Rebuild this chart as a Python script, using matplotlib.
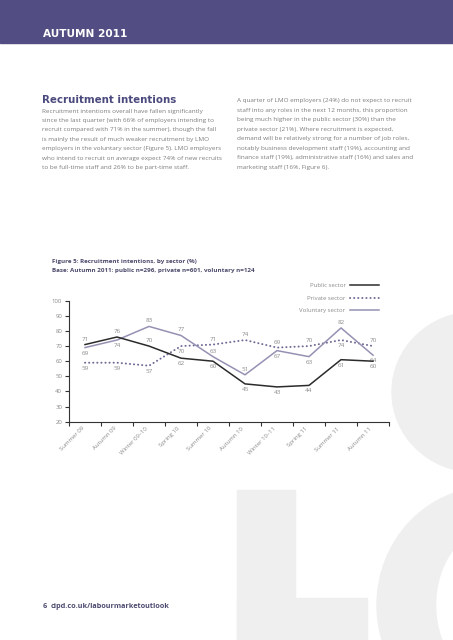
import matplotlib
matplotlib.use("Agg")
import matplotlib.pyplot as plt
from matplotlib.patches import Rectangle, Ellipse

# Figure 5 data (%)
periods = ["Summer 09", "Autumn 09", "Winter 09–10", "Spring 10", "Summer 10",
           "Autumn 10", "Winter 10–11", "Spring 11", "Summer 11", "Autumn 11"]
public = [71, 76, 70, 62, 60, 45, 43, 44, 61, 60]
private = [59, 59, 57, 70, 71, 74, 69, 70, 74, 70]
voluntary = [69, 74, 83, 77, 63, 51, 67, 63, 82, 64]

# where each value label sits: +1 above the line, -1 below
public_pos = [1, 1, 1, -1, -1, -1, -1, -1, -1, -1]
private_pos = [-1, -1, -1, -1, 1, 1, 1, 1, -1, 1]
voluntary_pos = [-1, -1, 1, 1, 1, 1, -1, -1, 1, -1]

left_text = [
    "Recruitment intentions overall have fallen significantly",
    "since the last quarter (with 66% of employers intending to",
    "recruit compared with 71% in the summer), though the fall",
    "is mainly the result of much weaker recruitment by LMO",
    "employers in the voluntary sector (Figure 5). LMO employers",
    "who intend to recruit on average expect 74% of new recruits",
    "to be full-time staff and 26% to be part-time staff.",
]
right_text = [
    "A quarter of LMO employers (24%) do not expect to recruit",
    "staff into any roles in the next 12 months, this proportion",
    "being much higher in the public sector (30%) than the",
    "private sector (21%). Where recruitment is expected,",
    "demand will be relatively strong for a number of job roles,",
    "notably business development staff (19%), accounting and",
    "finance staff (19%), administrative staff (16%) and sales and",
    "marketing staff (16%, Figure 6).",
]

W, H = 453, 640
PURPLE = "#524e83"
GREY_TXT = "#7d7d7d"
BG_SHAPE = "#eeefee"


def fx(x):
    return x / W


def fy(y):
    return 1 - y / H


fig = plt.figure(figsize=(W / 100, H / 100), dpi=100)
fig.patch.set_facecolor("white")

# background decoration (big faint letters)
fig.patches.append(Ellipse((fx(475), fy(392)), 166 / W, 160 / H, transform=fig.transFigure,
                           color=BG_SHAPE, zorder=0))
fig.patches.append(Rectangle((fx(237), fy(640)), 58 / W, 150 / H, transform=fig.transFigure,
                             color=BG_SHAPE, zorder=0))
fig.patches.append(Rectangle((fx(237), fy(640)), 130 / W, 42 / H, transform=fig.transFigure,
                             color=BG_SHAPE, zorder=0))
fig.patches.append(Ellipse((fx(490), fy(605)), 226 / W, 236 / H, transform=fig.transFigure,
                           color=BG_SHAPE, zorder=0))
fig.patches.append(Ellipse((fx(487), fy(605)), 100 / W, 144 / H, transform=fig.transFigure,
                           color="white", zorder=0))

# header band
fig.patches.append(Rectangle((0, fy(43)), 1, 43 / H, transform=fig.transFigure,
                             color=PURPLE, zorder=1))
fig.text(fx(43), fy(37), "AUTUMN 2011", color="white", fontsize=7.6,
         fontweight="bold", va="baseline", ha="left")

fig.text(fx(42), fy(103.3), "Recruitment intentions", color="#4b4a7e", fontsize=7.4,
         fontweight="bold", va="baseline")

for i, line in enumerate(left_text):
    fig.text(fx(42), fy(111 + 9.45 * i), line, color=GREY_TXT, fontsize=4.55,
             family="Open Sans", va="center")
for i, line in enumerate(right_text):
    fig.text(fx(237), fy(100.7 + 9.5 * i), line, color=GREY_TXT, fontsize=4.55,
             family="Open Sans", va="center")

fig.text(fx(52), fy(261.7), "Figure 5: Recruitment intentions, by sector (%)",
         color="#4c4a6b", fontsize=4.5, fontweight="bold", family="Open Sans", va="center")
fig.text(fx(52), fy(270.7), "Base: Autumn 2011: public n=296, private n=601, voluntary n=124",
         color="#4c4a6b", fontsize=4.5, fontweight="bold", family="Open Sans", va="center")

# chart
ax = fig.add_axes([fx(69), fy(421.7), (389 - 69) / W, (421.7 - 300.7) / H])
ax.patch.set_alpha(0)
x = list(range(len(periods)))

l_pub, = ax.plot(x, public, color="#2b2b2b", lw=1.1, label="Public sector", zorder=4)
l_pri, = ax.plot(x, private, color="#6e6a93", lw=1.4, linestyle=(0, (0.1, 2.0)),
                 dash_capstyle="round", label="Private sector", zorder=3)
l_vol, = ax.plot(x, voluntary, color="#9591b3", lw=1.1, label="Voluntary sector", zorder=3)

for vals, pos in ((public, public_pos), (private, private_pos), (voluntary, voluntary_pos)):
    for xi, v, p in zip(x, vals, pos):
        ax.annotate(str(v), (xi, v), xytext=(0, 2.2 * p), textcoords="offset points",
                    ha="center", va="bottom" if p > 0 else "top",
                    fontsize=4.5, color="#8a8a8a", family="Open Sans")

ax.set_xlim(-0.5, len(periods) - 0.5)
ax.set_ylim(20, 100)
ax.set_yticks(range(20, 101, 10))
ax.set_xticks([i - 0.5 for i in range(len(periods) + 1)])
ax.set_xticklabels([])
ax.set_xticks(x, minor=True)
ax.set_xticklabels(periods, minor=True, rotation=45, ha="right", va="top")
ax.tick_params(axis="x", which="major", direction="out", length=3, width=0.8, color="#333333")
ax.tick_params(axis="x", which="minor", length=0, pad=3, labelsize=4.3, labelcolor="#8a8a8a")
ax.tick_params(axis="y", direction="out", length=3, width=0.8, color="#333333",
               labelsize=4.3, labelcolor="#8a8a8a", pad=2)
for lbl in ax.get_xticklabels(minor=True) + ax.get_yticklabels():
    lbl.set_family("Open Sans")
for s in ("top", "right"):
    ax.spines[s].set_visible(False)
for s in ("left", "bottom"):
    ax.spines[s].set_color("#333333")
    ax.spines[s].set_linewidth(0.8)

leg = ax.legend(handles=[l_pub, l_pri, l_vol], loc="upper right", markerfirst=False,
                frameon=False, bbox_to_anchor=(fx(379), fy(283)),
                bbox_transform=fig.transFigure, fontsize=4.3, handlelength=4.8,
                handletextpad=0.8, labelspacing=1.25, borderpad=0, borderaxespad=0)
for t in leg.get_texts():
    t.set_color("#8a8a8a")
    t.set_family("Open Sans")

fig.text(fx(43), fy(606), "6", color="#4b4a6e", fontsize=5.2, fontweight="bold",
         family="Open Sans", va="center")
fig.text(fx(51), fy(606), "cipd.co.uk/labourmarketoutlook", color="#4b4a6e", fontsize=5.2,
         fontweight="bold", family="Open Sans", va="center")

fig.savefig("out.png", dpi=100)
